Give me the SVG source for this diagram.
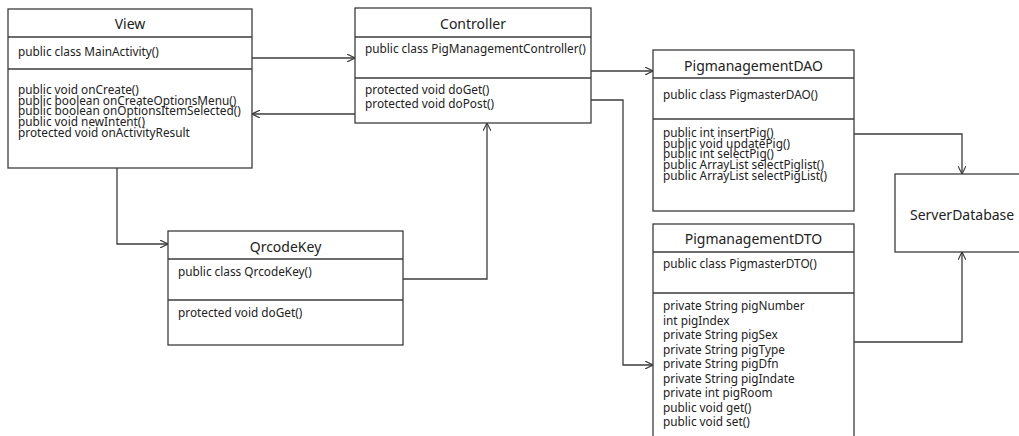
<svg xmlns="http://www.w3.org/2000/svg" width="1019" height="436" viewBox="0 0 1019 436">
<defs>
<style>
.box{fill:#fff;stroke:#3c3c3c;stroke-width:1.3}
.ln{stroke:#3c3c3c;stroke-width:1.3;fill:none}
.t{font-family:"Noto Sans","Liberation Sans",sans-serif;font-size:11.8px;fill:#222}
.h{font-family:"Noto Sans","Liberation Sans",sans-serif;font-size:14px;fill:#222;text-anchor:middle}
.c{stroke:#3c3c3c;stroke-width:1.3;fill:none;marker-end:url(#arr)}
</style>
<marker id="arr" viewBox="0 0 10 10" refX="10" refY="5" markerWidth="8" markerHeight="8" markerUnits="userSpaceOnUse" orient="auto">
<path d="M0,0 L10,5 L0,10" fill="none" stroke="#3c3c3c" stroke-width="1.4"/>
</marker>
</defs>
<rect width="1019" height="436" fill="#fff"/>
<g id="connectors">
<path class="c" d="M252,58 H355"/>
<path class="c" d="M355,114 H252"/>
<path class="c" d="M117,168 V244 H168"/>
<path class="c" d="M403,279 H487 V123"/>
<path class="c" d="M591,71 H653"/>
<path class="c" d="M591,100 H623 V365 H653"/>
<path class="c" d="M854,134 H962 V174"/>
<path class="c" d="M854,342 H962 V252"/>
</g>
<g id="view">
<rect class="box" x="8" y="9" width="244" height="159"/>
<path class="ln" d="M8,37 H252 M8,69 H252"/>
<text class="h" x="130" y="29">View</text>
<text class="t" x="18" y="56">public class MainActivity()</text>
<text class="t" x="18" y="94">public void onCreate()<tspan x="18" dy="10.7">public boolean onCreateOptionsMenu()</tspan><tspan x="18" dy="10.7">public boolean onOptionsItemSelected()</tspan><tspan x="18" dy="10.7">public void newIntent()</tspan><tspan x="18" dy="10.7">protected void onActivityResult</tspan></text>
</g>
<g id="controller">
<rect class="box" x="355" y="8" width="236" height="115"/>
<path class="ln" d="M355,37 H591 M355,78 H591"/>
<text class="h" x="473" y="28.5">Controller</text>
<text class="t" x="365" y="53">public class PigManagementController()</text>
<text class="t" x="365" y="94">protected void doGet()<tspan x="365" dy="14">protected void doPost()</tspan></text>
</g>
<g id="qrcodekey">
<rect class="box" x="168" y="231" width="235" height="114"/>
<path class="ln" d="M168,259 H403 M168,300 H403"/>
<text class="h" x="285.5" y="252">QrcodeKey</text>
<text class="t" x="178" y="276">public class QrcodeKey()</text>
<text class="t" x="178" y="317">protected void doGet()</text>
</g>
<g id="dao">
<rect class="box" x="653" y="50" width="201" height="161"/>
<path class="ln" d="M653,78 H854 M653,119 H854"/>
<text class="h" x="753.5" y="71">PigmanagementDAO</text>
<text class="t" x="663" y="99">public class PigmasterDAO()</text>
<text class="t" x="663" y="137">public int insertPig()<tspan x="663" dy="10.7">public void updatePig()</tspan><tspan x="663" dy="10.7">public int selectPig()</tspan><tspan x="663" dy="10.7">public ArrayList selectPiglist()</tspan><tspan x="663" dy="10.7">public ArrayList selectPigList()</tspan></text>
</g>
<g id="dto">
<rect class="box" x="653" y="224" width="201" height="220"/>
<path class="ln" d="M653,252 H854 M653,293 H854"/>
<text class="h" x="753.5" y="244">PigmanagementDTO</text>
<text class="t" x="663" y="268">public class PigmasterDTO()</text>
<text class="t" x="663" y="310">private String pigNumber<tspan x="663" dy="14.5">int pigIndex</tspan><tspan x="663" dy="14.5">private String pigSex</tspan><tspan x="663" dy="14.5">private String pigType</tspan><tspan x="663" dy="14.5">private String pigDfn</tspan><tspan x="663" dy="14.5">private String pigIndate</tspan><tspan x="663" dy="14.5">private int pigRoom</tspan><tspan x="663" dy="14.5">public void get()</tspan><tspan x="663" dy="14.5">public void set()</tspan></text>
</g>
<g id="serverdatabase">
<rect class="box" x="895" y="174" width="140" height="78"/>
<text class="t" x="910" y="220" style="font-size:14px">ServerDatabase</text>
</g>
</svg>
